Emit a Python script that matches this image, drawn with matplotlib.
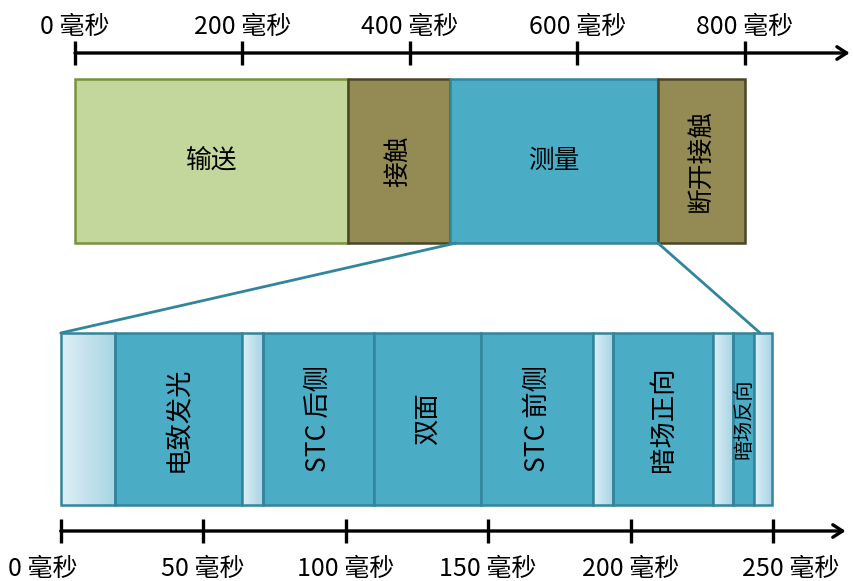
import numpy as np
import matplotlib
matplotlib.use("Agg")
from matplotlib import pyplot as plt
from matplotlib.patches import ConnectionPatch, Rectangle

plt.rcParams["font.family"] = ["Noto Sans CJK SC", "DejaVu Sans"]

# top timeline (ms)
top_names = ["输送", "接触", "测量", "断开接触"]
top_start = [0, 326, 448, 696]
top_end = [326, 448, 696, 800]
top_kind = ["transport", "contact", "measure", "contact"]
top_ticks = [0, 200, 400, 600, 800]

# bottom timeline, zoom into measurement (ms)
bot_names = ["", "电致发光", "", "STC 后侧", "双面", "STC 前侧", "", "暗场正向", "", "暗场反向", ""]
bot_start = [0, 19, 63.7, 71, 110, 147.5, 187, 194, 229, 236, 243.5]
bot_end = [19, 63.7, 71, 110, 147.5, 187, 194, 229, 236, 243.5, 249.5]
bot_ticks = [0, 50, 100, 150, 200, 250]

styles = {
    "transport": ("#C3D69B", "#77933C"),
    "contact": ("#948A54", "#4A4527"),
    "measure": ("#4BACC6", "#31859C"),
}
GAP_EDGE = "#31859C"

W, H = 854, 581
fig = plt.figure(figsize=(W / 100, H / 100), dpi=100)

# top axes: 0 ms at x=75px, 0.8375 px per ms
ax_top = fig.add_axes([0, 0, 1, 1])
ax_top.set_xlim(-75 / 0.8375, (W - 75) / 0.8375)
ax_top.set_ylim(H, 0)
ax_top.axis("off")

# bottom axes: 0 ms at x=60.7px, 2.849 px per ms
ax_bot = fig.add_axes([0, 0, 1, 1])
ax_bot.set_xlim(-60.7 / 2.849, (W - 60.7) / 2.849)
ax_bot.set_ylim(H, 0)
ax_bot.axis("off")
ax_bot.patch.set_alpha(0)

top_y0, top_y1 = 79, 243
bot_y0, bot_y1 = 333, 505

for name, s, e, k in zip(top_names, top_start, top_end, top_kind):
    fc, ec = styles[k]
    ax_top.barh((top_y0 + top_y1) / 2, e - s, left=s, height=top_y1 - top_y0,
                color=fc, edgecolor=ec, linewidth=1.8, zorder=2)
    rot = 0 if name in ("输送", "测量") else 90
    ax_top.text((s + e) / 2, (top_y0 + top_y1) / 2, name, rotation=rot,
                ha="center", va="center", fontsize=18.5, zorder=3)

grad = np.linspace(0, 1, 64).reshape(1, -1)
light_cmap = matplotlib.colors.LinearSegmentedColormap.from_list(
    "light", ["#DDEFF6", "#A8D5E4"])

for name, s, e in zip(bot_names, bot_start, bot_end):
    if name:
        ax_bot.barh((bot_y0 + bot_y1) / 2, e - s, left=s, height=bot_y1 - bot_y0,
                    color=styles["measure"][0], edgecolor=GAP_EDGE,
                    linewidth=1.8, zorder=2)
        fs = 14.5 if name == "暗场反向" else 19
        ax_bot.text((s + e) / 2, (bot_y0 + bot_y1) / 2, name, rotation=90,
                    ha="center", va="center", fontsize=fs, zorder=3)
    else:
        ax_bot.imshow(grad, cmap=light_cmap, extent=[s, e, bot_y1, bot_y0],
                      aspect="auto", zorder=2)
        ax_bot.add_patch(Rectangle((s, bot_y0), e - s, bot_y1 - bot_y0,
                                   fill=False, edgecolor=GAP_EDGE,
                                   linewidth=1.8, zorder=2.5))
ax_bot.set_xlim(-60.7 / 2.849, (W - 60.7) / 2.849)
ax_bot.set_ylim(H, 0)


# time axes with arrows
def draw_axis(ax, ticks, y, tip, label_y, shift):
    ax.annotate("", xy=(tip, y), xytext=(ticks[0], y),
                arrowprops=dict(arrowstyle="->,head_length=0.7,head_width=0.45",
                                color="black", lw=2.4, shrinkA=0, shrinkB=0))
    ax.vlines(ticks, y - 12, y + 12, color="black", lw=2.4)
    for t, dx in zip(ticks, shift):
        ax.annotate(f"{t} 毫秒", (t, label_y), xytext=(dx, 0),
                    textcoords="offset pixels", ha="center", va="center",
                    fontsize=18)


draw_axis(ax_top, top_ticks, 53, 925, 27, [0, 0, 0, 0, 0])
draw_axis(ax_bot, bot_ticks, 531, 275.5, 569, [-18, 0, 0, 0, 0, 18])

# zoom connectors
for xa, xb in [(455, 0), (696, 245.5)]:
    con = ConnectionPatch(xyA=(xa, top_y1), coordsA=ax_top.transData,
                          xyB=(xb, bot_y0), coordsB=ax_bot.transData,
                          color="#31859C", lw=2.0, zorder=1)
    fig.add_artist(con)

fig.savefig("out.png", dpi=100)
